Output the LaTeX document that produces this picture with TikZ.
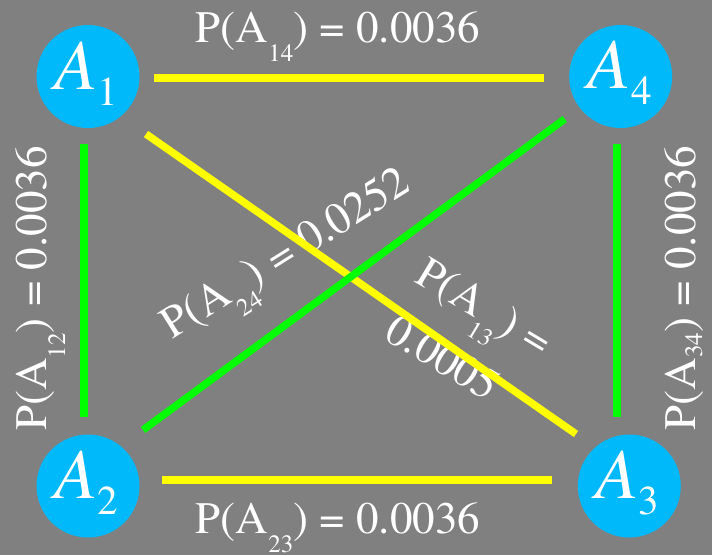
\documentclass[tikz,border=0pt]{standalone}
\usepackage{fontspec}
\setmainfont{texgyretermes}[Extension=.otf, UprightFont=*-regular, ItalicFont=*-italic, BoldFont=*-bold, BoldItalicFont=*-bolditalic]
\usetikzlibrary{calc}
\definecolor{bggray}{RGB}{128,128,128}
\definecolor{nodecyan}{RGB}{0,185,250}
\definecolor{lineyellow}{RGB}{255,255,0}
\definecolor{linegreen}{RGB}{0,255,0}
\newcommand{\lsb}[1]{\raisebox{-19pt}{\fontsize{25}{25}\selectfont #1}}
\newcommand{\lsbhigh}[1]{\raisebox{-7pt}{\fontsize{25}{25}\selectfont #1}}
\newcommand{\nsb}[1]{\raisebox{-16pt}{\fontsize{41}{41}\selectfont\upshape #1}}
\begin{document}
\begin{tikzpicture}[x=1pt,y=-1pt,
  vert/.style={circle, fill=nodecyan, minimum size=103pt, inner sep=0pt, outer sep=0pt},
  ntext/.style={text=white, font=\fontsize{71}{71}\selectfont\itshape, inner sep=0pt, anchor=base},
  lbl/.style={text=white, font=\fontsize{45}{54}\selectfont, inner sep=0pt},
  edgeY/.style={draw=lineyellow, line width=7.5pt},
  edgeG/.style={draw=linegreen, line width=7.5pt}]
\fill[bggray] (0,0) rectangle (712,555);
\useasboundingbox (0,0) rectangle (712,555);
% vertices
\node[vert] (a1) at (88,76.5) {};
\node[vert] (a4) at (620.7,76.5) {};
\node[vert] (a2) at (88,486) {};
\node[vert] (a3) at (629.3,486) {};
\node[ntext] (t1) at ($(a1.center)+(-2,12.5)$) {A\nsb{1}};
\node[ntext] (t4) at ($(a4.center)+(-1,11.5)$) {A\nsb{4}};
\node[ntext] (t2) at ($(a2.center)+(-2,12)$) {A\nsb{2}};
\node[ntext] (t3) at ($(a3.center)+(-2,12)$) {A\nsb{3}};
% labels
\node[lbl, anchor=base] (l14) at (338,42) {P(A\lsb{14}) = 0.0036};
\node[lbl, anchor=base] (l23) at (338,533) {P(A\lsb{23}) = 0.0036};
\node[lbl, anchor=base, rotate=90] (l12) at (46,288.5) {P(A\lsb{12}) = 0.0036};
\node[lbl, anchor=base, rotate=90] (l34) at (695,288) {P(A\lsbhigh{34}) = 0.0036};
\node[lbl, anchor=base west, rotate=32] (l24) at (172,340) {P(A\lsb{24}) = 0.0252};
\node[lbl, anchor=base west, rotate=-31] (l13a) at (413,281) {P(A\lsb{13}) =};
\node[lbl, anchor=base west, rotate=-31] (l13b) at (382,338) {0.0005};
% connectors
\coordinate (p14) at ([yshift=-1.5pt]a1.east);
\coordinate (p23) at ([yshift=6pt]a2.east);
\coordinate (p12) at ([xshift=-4pt]a1.south);
\coordinate (p43) at ([xshift=-3.7pt]a4.south);
\draw[edgeY, shorten <=14.5pt, shorten >=25pt] (p14) -- (p14 -| a4.west);
\draw[edgeY, shorten <=22.5pt, shorten >=25.8pt] (p23) -- (p23 -| a3.west);
\draw[edgeY] ($(a1.center)+(58,57.5)$) -- ($(a3.center)+(-53.3,-52)$);
\draw[edgeG, shorten <=16pt, shorten >=17.5pt] (p12) -- (p12 |- a2.north);
\draw[edgeG, shorten <=16pt, shorten >=17.5pt] (p43) -- (p43 |- a3.north);
\draw[edgeG] ($(a2.center)+(55,-56)$) -- ($(a4.center)+(-56,42.5)$);
\end{tikzpicture}
\end{document}
